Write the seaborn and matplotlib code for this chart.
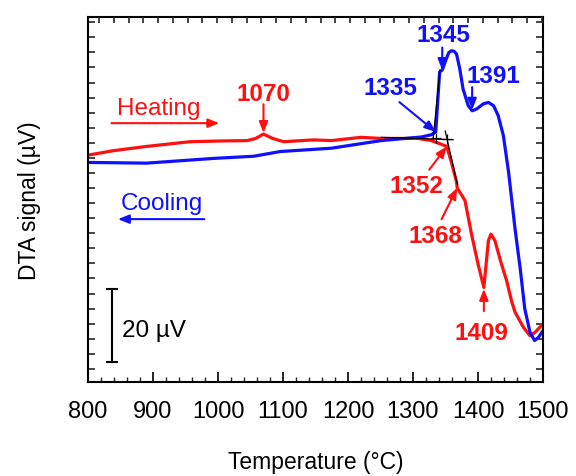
import numpy as np
import pandas as pd
import matplotlib
matplotlib.use("Agg")
import matplotlib.pyplot as plt
from matplotlib.ticker import MultipleLocator, NullFormatter
import seaborn as sns

# DTA heating run (temperature in degC, signal offset in uV)
heating_T = [800, 838, 890, 957, 1004, 1045, 1058, 1070, 1084, 1101, 1147, 1174,
             1220, 1251, 1308, 1328, 1339, 1352, 1359, 1367, 1368, 1380, 1390,
             1400, 1409, 1416, 1420, 1426, 1436, 1444, 1452, 1457, 1470, 1480,
             1488, 1500]
heating_uV = [58.8, 60.0, 61.2, 62.5, 62.7, 62.8, 63.4, 64.6, 63.4, 62.5, 63.0, 62.8,
              63.7, 63.4, 63.4, 62.8, 62.1, 61.2, 56.9, 51.4, 49.8, 46.3, 37.1,
              28.9, 22.4, 35.3, 37.1, 35.3, 28.9, 24.3, 18.4, 15.6, 11.4, 9.1,
              10.1, 12.4]

# DTA cooling run
cooling_T = [800, 890, 993, 1055, 1096, 1174, 1251, 1313, 1328, 1335, 1341, 1345,
             1351, 1355, 1359, 1363, 1367, 1372, 1377, 1385, 1391, 1398, 1408,
             1416, 1424, 1431, 1439, 1447, 1457, 1465, 1472, 1480, 1487, 1493, 1500]
cooling_uV = [56.8, 56.6, 57.9, 58.5, 59.8, 60.7, 62.8, 63.8, 64.4, 65.2, 81.7, 82.2,
              85.2, 87.0, 87.5, 87.4, 86.6, 82.5, 77.0, 72.4, 71.0, 71.5, 72.9,
              73.3, 72.4, 69.7, 64.2, 54.2, 38.5, 27.5, 16.5, 10.1, 7.8, 8.7, 10.5]

# labelled transition temperatures
heating_marks = [1070, 1352, 1368, 1409]
cooling_marks = [1335, 1345, 1391]

# onset construction lines (baseline and tangents)
baseline_T, baseline_uV = [1251, 1362], [63.7, 63.05]
tangent_cool_T, tangent_cool_uV = [1331, 1341.5], [63.3, 82.3]
tangent_heat_T, tangent_heat_uV = [1349.5, 1368.5], [65.5, 50.6]

scale_bar_uV = 20
tick_labels = ["800", "900", "1000", "1100", "1200", "1300", "1400", "1500"]

RED = "#ff1010"
BLUE = "#1010ff"
TEXT_SIZE = 17.5

sns.set_theme(style="ticks")
plt.rcParams["font.family"] = ["Liberation Sans", "DejaVu Sans"]

fig = plt.figure(figsize=(5.76, 4.77), dpi=100)
ax = fig.add_axes([88 / 576, 94 / 477, 455 / 576, 365 / 477])

heat = pd.DataFrame({"T": heating_T, "uV": heating_uV})
cool = pd.DataFrame({"T": cooling_T, "uV": cooling_uV})
sns.lineplot(data=heat, x="T", y="uV", sort=False, estimator=None,
             color=RED, lw=2.3, ax=ax)
sns.lineplot(data=cool, x="T", y="uV", sort=False, estimator=None,
             color=BLUE, lw=2.3, ax=ax)

for xs, ys in [(baseline_T, baseline_uV), (tangent_cool_T, tangent_cool_uV),
               (tangent_heat_T, tangent_heat_uV)]:
    ax.plot(xs, ys, color="black", lw=0.9)
ax.plot([1335, 1352], [63.6, 63.2], "+", color="black", ms=7, mew=0.9)

ax.set_xlim(800, 1500)
ax.set_ylim(-3.6, 96.8)

arrow_style = dict(arrowstyle="-|>,head_length=0.55,head_width=0.22",
                   lw=1.5, shrinkA=0, shrinkB=0, mutation_scale=12)
num_font = dict(fontsize=TEXT_SIZE, fontweight="bold", ha="center", va="baseline")


def mark(temp, curve_T, curve_uV, color, tail, text_pos, tip_dy=0.0):
    tip = (temp, float(np.interp(temp, curve_T, curve_uV)) + tip_dy)
    ax.annotate("", xy=tip, xytext=tail,
                arrowprops=dict(color=color, **arrow_style))
    ax.text(text_pos[0], text_pos[1], str(temp), color=color, **num_font)


# heating events
mark(heating_marks[0], heating_T, heating_uV, RED, (1070, 72.8), (1070, 74.0), 0.3)
mark(heating_marks[1], heating_T, heating_uV, RED, (1325, 54.8), (1305, 48.6))
mark(heating_marks[2], heating_T, heating_uV, RED, (1344, 41.2), (1335, 34.8))
mark(heating_marks[3], heating_T, heating_uV, RED, (1409, 15.9), (1406, 8.2), -0.4)
# cooling events
mark(cooling_marks[0], cooling_T, cooling_uV, BLUE, (1279, 73.4), (1265, 75.6))
mark(cooling_marks[1], cooling_T, cooling_uV, BLUE, (1345, 88.4), (1347, 90.3))
mark(cooling_marks[2], cooling_T, cooling_uV, BLUE, (1391, 77.5), (1424, 78.8), 0.3)

# run direction labels
ax.text(844, 70.1, "Heating", color=RED, fontsize=TEXT_SIZE, ha="left", va="baseline")
ax.annotate("", xy=(1002, 67.6), xytext=(836, 67.6),
            arrowprops=dict(color=RED, **arrow_style))
ax.text(850, 44.0, "Cooling", color=BLUE, fontsize=TEXT_SIZE, ha="left", va="baseline")
ax.annotate("", xy=(846, 41.2), xytext=(979, 41.2),
            arrowprops=dict(color=BLUE, **arrow_style))

# scale bar
ax.errorbar([836.6], [12.0], yerr=scale_bar_uV / 2, color="black",
            lw=1.5, capsize=4.5, capthick=1.5)
ax.text(852, 9.1, f"{scale_bar_uV} \u00b5V", color="black", fontsize=TEXT_SIZE,
        ha="left", va="baseline")

# axes, ticks and labels
ax.xaxis.set_major_locator(MultipleLocator(100))
ax.xaxis.set_minor_locator(MultipleLocator(20))
ax.set_xticks(range(800, 1501, 100))
ax.set_xticklabels(tick_labels)
ax.yaxis.set_major_locator(MultipleLocator(4.146))
ax.yaxis.set_major_formatter(NullFormatter())
ax.tick_params(axis="x", which="major", direction="in", length=7, width=1.2,
               labelsize=17, pad=13, colors="black")
ax.tick_params(axis="x", which="minor", direction="in", length=3.5, width=1.0)
ax.tick_params(axis="y", which="major", direction="in", length=5, width=1.2,
               left=True, right=True, labelleft=False)
ax.set_xlabel("Temperature (\u00b0C)", fontsize=16.5, labelpad=20, color="black")
ax.set_ylabel("DTA signal (\u00b5V)", fontsize=16.5, labelpad=34, color="black")
for side in ax.spines.values():
    side.set_visible(True)
    side.set_linewidth(1.5)
    side.set_color("black")

top = ax.twiny()
top.set_xlim(ax.get_xlim())
top.xaxis.set_major_locator(MultipleLocator(22.7))
top.xaxis.set_major_formatter(NullFormatter())
top.tick_params(axis="x", direction="in", length=4, width=1.2)
for side in top.spines.values():
    side.set_visible(False)

fig.savefig("out.png", dpi=100)
